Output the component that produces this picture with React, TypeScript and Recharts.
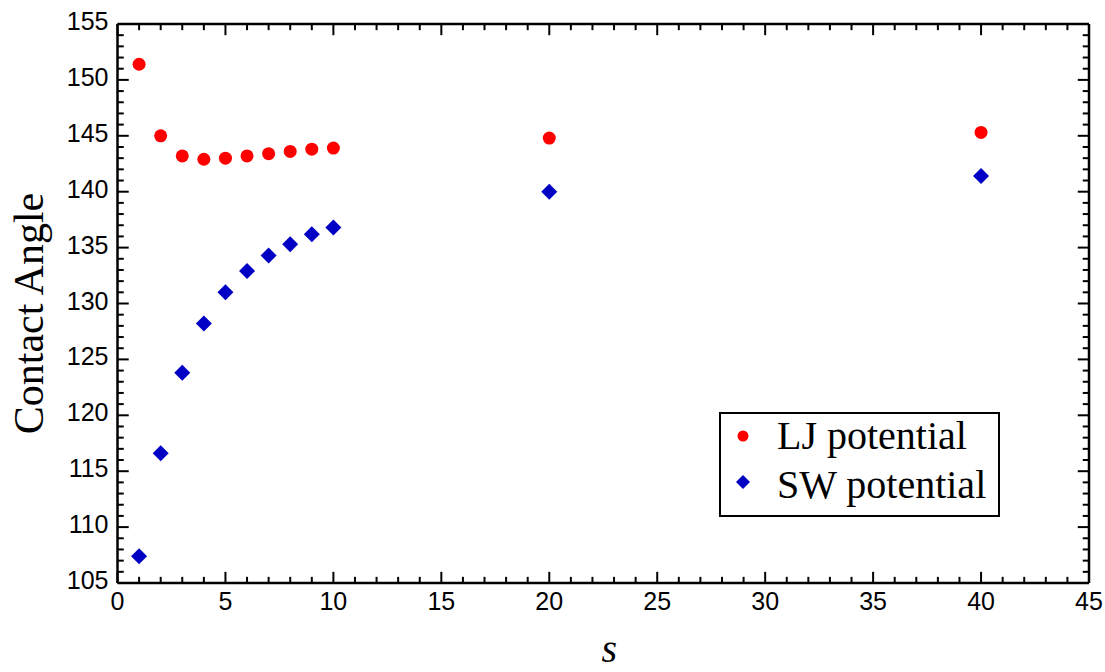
import React from 'react';
import { ScatterChart, Scatter, XAxis, YAxis, Legend, ReferenceLine } from 'recharts';

const sValues = [1, 2, 3, 4, 5, 6, 7, 8, 9, 10, 20, 40];
const ljAngles = [151.4, 145.0, 143.2, 142.9, 143.0, 143.2, 143.4, 143.6, 143.8, 143.9, 144.8, 145.3];
const swAngles = [107.4, 116.6, 123.8, 128.2, 131.0, 132.9, 134.3, 135.3, 136.2, 136.8, 140.0, 141.4];
const xTicks = Array.from({ length: 46 }, (_, i) => i);
const xLabelTicks = [0, 5, 10, 15, 20, 25, 30, 35, 40, 45];
const yTicks = Array.from({ length: 51 }, (_, i) => 105 + i);
const yLabelTicks = [105, 110, 115, 120, 125, 130, 135, 140, 145, 150, 155];

const ljData = sValues.map((s, i) => ({ s, angle: ljAngles[i] }));
const swData = sValues.map((s, i) => ({ s, angle: swAngles[i] }));

const X_MIN = 0;
const X_MAX = 45;
const Y_MIN = 105;
const Y_MAX = 155;

const RED = '#ff0000';
const BLUE = '#0000c4';
const SANS = '"Liberation Sans", Arial, Helvetica, sans-serif';
const SERIF = '"Liberation Serif", "Times New Roman", serif';
const FRAME = { stroke: '#000', strokeWidth: 2.5 };

// tick lengths, in data units of the perpendicular axis
const X_TICK_MAJOR = 1.0;
const X_TICK_MINOR = 0.55;
const Y_TICK_MAJOR = 0.52;
const Y_TICK_MINOR = 0.29;

const BottomLabel = (p: any) => (
  <text x={p.x} y={p.y + 27} textAnchor="middle" fontSize={25} fontFamily={SANS} fill="#000">
    {p.payload.value}
  </text>
);
const LeftLabel = (p: any) => (
  <text x={p.x - 9} y={p.y + 6} textAnchor="end" fontSize={25} fontFamily={SANS} fill="#000">
    {p.payload.value}
  </text>
);

const Circle = (p: any) => <circle cx={p.cx} cy={p.cy} r={6.5} fill={RED} />;
const Diamond = (p: any) => (
  <polygon
    points={`${p.cx},${p.cy - 8} ${p.cx + 8},${p.cy} ${p.cx},${p.cy + 8} ${p.cx - 8},${p.cy}`}
    fill={BLUE}
  />
);

const LegendBox = (props: any) => {
  const items = props.payload || [];
  return (
    <svg width={281} height={105} style={{ display: 'block' }}>
      <rect x={1} y={1} width={279} height={103} fill="#fff" stroke="#000" strokeWidth={2} />
      {items.map((it: any, i: number) => {
        const cy = i === 0 ? 24 : 70;
        const by = i === 0 ? 37 : 86;
        return (
          <g key={i}>
            {i === 0 ? (
              <circle cx={24} cy={cy} r={5.5} fill={RED} />
            ) : (
              <polygon points={`24,${cy - 7} 31,${cy} 24,${cy + 7} 17,${cy}`} fill={BLUE} />
            )}
            <text x={58} y={by} fontSize={40} fontFamily={SERIF} fill="#000">
              {it.value}
            </text>
          </g>
        );
      })}
    </svg>
  );
};

const tickSegments: { key: string; seg: [{ x: number; y: number }, { x: number; y: number }] }[] = [];
xTicks.forEach((t) => {
  const len = t % 5 === 0 ? X_TICK_MAJOR : X_TICK_MINOR;
  tickSegments.push({ key: `b${t}`, seg: [{ x: t, y: Y_MIN }, { x: t, y: Y_MIN + len }] });
  tickSegments.push({ key: `t${t}`, seg: [{ x: t, y: Y_MAX }, { x: t, y: Y_MAX - len }] });
});
yTicks.forEach((t) => {
  const len = t % 5 === 0 ? Y_TICK_MAJOR : Y_TICK_MINOR;
  tickSegments.push({ key: `l${t}`, seg: [{ x: X_MIN, y: t }, { x: X_MIN + len, y: t }] });
  tickSegments.push({ key: `r${t}`, seg: [{ x: X_MAX, y: t }, { x: X_MAX - len, y: t }] });
});

export default function App() {
  return (
    <div style={{ position: 'absolute', left: 0, top: 0, background: '#fff' }}>
      <ScatterChart width={1105} height={672} margin={{ top: 23, right: 15, bottom: 0, left: 7.5 }}>
        <XAxis
          xAxisId="main"
          orientation="bottom"
          type="number"
          dataKey="s"
          domain={[X_MIN, X_MAX]}
          ticks={xLabelTicks}
          interval={0}
          tickSize={0}
          tickMargin={0}
          tick={BottomLabel}
          tickLine={false}
          axisLine={FRAME}
          height={89}
          label={(lp: any) => {
            const vb = lp.viewBox || {};
            return (
              <text
                x={vb.x + vb.width / 2 + 6}
                y={662}
                textAnchor="middle"
                fontSize={40}
                fontStyle="italic"
                fontFamily={SERIF}
                fill="#000"
              >
                s
              </text>
            );
          }}
        />
        <XAxis
          xAxisId="top"
          orientation="top"
          type="number"
          dataKey="s"
          domain={[X_MIN, X_MAX]}
          ticks={xLabelTicks}
          tick={false}
          tickLine={false}
          axisLine={FRAME}
          height={1}
        />
        <YAxis
          yAxisId="main"
          orientation="left"
          type="number"
          dataKey="angle"
          domain={[Y_MIN, Y_MAX]}
          ticks={yLabelTicks}
          interval={0}
          tickSize={0}
          tickMargin={0}
          tick={LeftLabel}
          tickLine={false}
          axisLine={FRAME}
          width={110}
          label={(lp: any) => {
            const vb = lp.viewBox || {};
            const cy = vb.y + vb.height / 2 + 10;
            return (
              <text
                x={43}
                y={cy}
                transform={`rotate(-90, 43, ${cy})`}
                textAnchor="middle"
                fontSize={42}
                fontFamily={SERIF}
                fill="#000"
              >
                Contact Angle
              </text>
            );
          }}
        />
        <YAxis
          yAxisId="right"
          orientation="right"
          type="number"
          dataKey="angle"
          domain={[Y_MIN, Y_MAX]}
          ticks={yLabelTicks}
          tick={false}
          tickLine={false}
          axisLine={FRAME}
          width={1}
        />
        {tickSegments.map((t) => (
          <ReferenceLine
            key={t.key}
            xAxisId="main"
            yAxisId="main"
            segment={t.seg}
            stroke="#000"
            strokeWidth={2}
            ifOverflow="visible"
          />
        ))}
        <Legend
          layout="horizontal"
          verticalAlign="middle"
          align="center"
          content={<LegendBox />}
          wrapperStyle={{ left: 719, top: 412, width: 281, height: 105 }}
        />
        <Scatter
          name="LJ potential"
          data={ljData}
          xAxisId="main"
          yAxisId="main"
          fill={RED}
          shape={<Circle />}
          isAnimationActive={false}
        />
        <Scatter
          name="SW potential"
          data={swData}
          xAxisId="main"
          yAxisId="main"
          fill={BLUE}
          shape={<Diamond />}
          isAnimationActive={false}
        />
      </ScatterChart>
    </div>
  );
}
